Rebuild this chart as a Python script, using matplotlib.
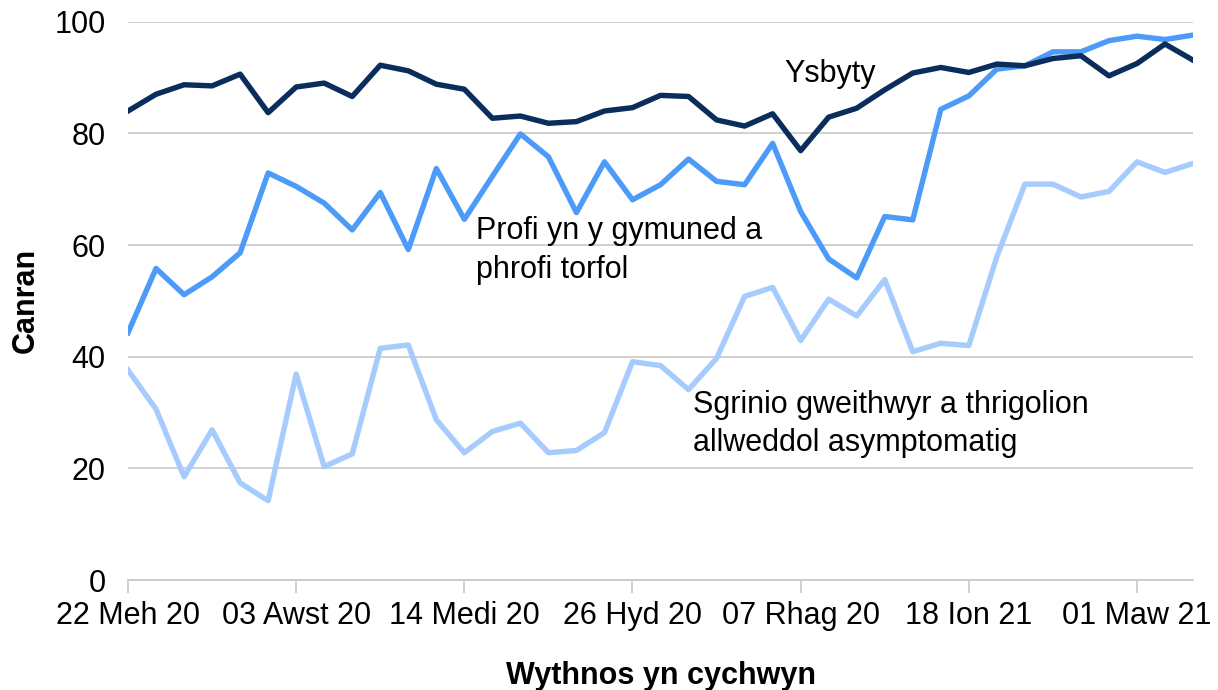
import matplotlib
matplotlib.use('Agg')
import matplotlib.pyplot as plt
import pandas as pd

plt.rcParams['font.family'] = ['Liberation Sans', 'DejaVu Sans']

# weekly data, 22 Jun 2020 - 15 Mar 2021
weeks = pd.date_range('2020-06-22', periods=39, freq='7D')

ysbyty = [84.0, 87.0, 88.7, 88.5, 90.6, 83.7, 88.3, 89.0, 86.6, 92.2,
          91.2, 88.8, 87.9, 82.7, 83.1, 81.8, 82.1, 84.0, 84.6, 86.8,
          86.6, 82.4, 81.3, 83.5, 76.9, 82.9, 84.5, 87.8, 90.8, 91.8,
          90.9, 92.4, 92.1, 93.4, 93.9, 90.3, 92.5, 96.0, 93.1]

profi = [44.3, 55.8, 51.1, 54.3, 58.6, 72.9, 70.5, 67.5, 62.7, 69.4,
         59.2, 73.7, 64.6, 72.3, 79.9, 75.8, 65.8, 74.9, 68.1, 70.8,
         75.4, 71.4, 70.8, 78.2, 66.0, 57.5, 54.1, 65.1, 64.5, 84.3,
         86.7, 91.5, 92.1, 94.6, 94.6, 96.6, 97.4, 96.8, 97.6]

sgrinio = [37.6, 30.6, 18.5, 26.9, 17.4, 14.2, 36.9, 20.3, 22.6, 41.5,
           42.1, 28.7, 22.8, 26.6, 28.1, 22.8, 23.2, 26.4, 39.1, 38.4,
           34.1, 39.7, 50.8, 52.4, 42.9, 50.3, 47.3, 53.8, 40.9, 42.4,
           42.0, 57.9, 70.9, 70.9, 68.6, 69.6, 74.9, 73.0, 74.6]

tick_labels = ['22 Meh 20', '03 Awst 20', '14 Medi 20', '26 Hyd 20',
               '07 Rhag 20', '18 Ion 21', '01 Maw 21']

DARK = '#0b2d5c'
MID = '#4d9bf8'
LIGHT = '#a6cbfd'
GRID = '#c8c8c8'
FS = 22


def main():
    fig = plt.figure(figsize=(12.18, 6.9), dpi=100)
    ax = fig.add_axes([0.1051, 0.1594, 0.8744, 0.8092])

    ax.plot(weeks, sgrinio, color=LIGHT, lw=3.9, zorder=3)
    ax.plot(weeks, profi, color=MID, lw=3.9, zorder=4)
    ax.plot(weeks, ysbyty, color=DARK, lw=3.9, zorder=5)

    ax.set_xlim(weeks[0], weeks[-1])
    ax.set_ylim(0, 100)
    ax.set_yticks(range(0, 101, 20))
    ax.set_xticks(weeks[::6])
    ax.set_xticklabels(tick_labels)

    ax.grid(axis='y', color=GRID, lw=1.2)
    ax.set_axisbelow(True)
    for s in ('top', 'right', 'left'):
        ax.spines[s].set_visible(False)
    ax.spines['bottom'].set_color(GRID)
    ax.spines['bottom'].set_linewidth(1.2)

    ax.tick_params(axis='x', direction='out', length=9, width=1.2, color=GRID,
                   labelsize=FS, pad=6)
    ax.tick_params(axis='y', length=0, labelsize=FS, pad=16)

    ax.set_ylabel('Canran', fontsize=FS, fontweight='bold', labelpad=10)
    ax.set_xlabel('Wythnos yn cychwyn', fontsize=FS, fontweight='bold', labelpad=22)

    # series labels
    ax.text(weeks[23] + pd.Timedelta(days=3), 90.6, 'Ysbyty', fontsize=FS,
            va='center', ha='left')
    ax.text(weeks[12] + pd.Timedelta(days=3), 65.2, 'Profi yn y gymuned a\nphrofi torfol',
            fontsize=FS, va='top', ha='left', linespacing=1.4)
    ax.text(weeks[20] + pd.Timedelta(days=1), 34.0,
            'Sgrinio gweithwyr a thrigolion\nallweddol asymptomatig',
            fontsize=FS, va='top', ha='left', linespacing=1.35)

    fig.savefig('out.png', dpi=100)


if __name__ == '__main__':
    main()
